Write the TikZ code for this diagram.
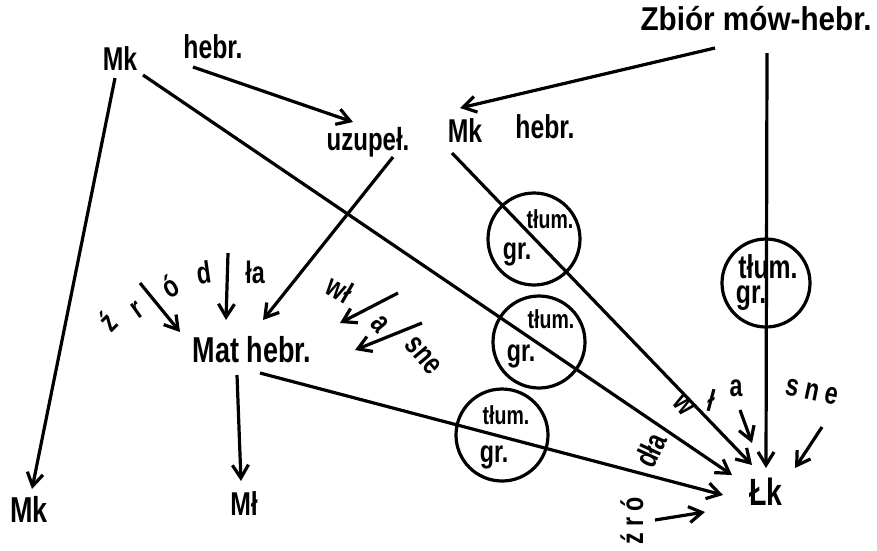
\documentclass[tikz,border=0pt]{standalone}
\usepackage{fontspec}
\setmainfont[FakeStretch=0.75]{Liberation Sans}
\newfontfamily\widefont[FakeStretch=0.9]{Liberation Sans}
\usetikzlibrary{arrows.meta}
\tikzset{
  lab/.style={anchor=base, inner sep=1pt, font=\fontsize{33}{33}\selectfont\bfseries},
  letter/.style={inner sep=0pt, font=\fontsize{31}{31}\selectfont\bfseries},
  ctext/.style={anchor=base, inner sep=0pt, font=\fontsize{26}{26}\selectfont\bfseries},
  gtext/.style={anchor=base, inner sep=0pt, font=\fontsize{31}{31}\selectfont\bfseries},
  circ/.style={circle, draw, line width=3.2pt, minimum size=92pt, inner sep=0pt},
  con/.style={line width=3.2pt, -{Straight Barb[length=13pt,width=16pt]}},
}
\begin{document}
\begin{tikzpicture}[x=1pt,y=-1pt]
\useasboundingbox (0,0) rectangle (877,550);

% main labels
\node[lab] (mk1) at (120,70) {Mk};
\node[lab] (heb1) at (213,58) {hebr.};
\node[lab, font=\fontsize{32}{32}\selectfont\bfseries] (uz) at (368,150) {uzupeł.};
\node[lab] (mkh) at (465,142) {Mk};
\node[lab] (heb2) at (545,138) {hebr.};
\node[lab, font=\fontsize{33}{33}\selectfont\widefont\bfseries] (zb) at (756,30) {Zbiór mów-hebr.};
\node[lab, font=\fontsize{36}{36}\selectfont\bfseries] (mat) at (252,362) {Mat hebr.};
\node[lab, font=\fontsize{36}{36}\selectfont\bfseries] (mk3) at (29,522) {Mk};
\node[lab] (ml) at (244,515) {Mł};
\node[lab, font=\fontsize{38}{38}\selectfont\bfseries] (lk) at (766,505) {Łk};

% connector end points
\coordinate (s1) at (193,67);   \coordinate (t1) at (353,122);
\coordinate (s2) at (715,48);   \coordinate (t2) at (460,108);
\coordinate (s3) at (767,53);   \coordinate (t3) at (766,468);
\coordinate (s4) at (115,78);   \coordinate (t4) at (32,489);
\coordinate (s5) at (143,75);   \coordinate (t5) at (732,475);
\coordinate (s6) at (452,153);  \coordinate (t6) at (752,465);
\coordinate (s7) at (393,157);  \coordinate (t7) at (263,320);
\coordinate (s8) at (260,373);  \coordinate (t8) at (723,495);
\coordinate (s9) at (237,375);  \coordinate (t9) at (241,481);

% main connectors
\draw[con] (s1) -- (t1);
\draw[con] (s2) -- (t2);
\draw[con] (s3) -- (t3);
\draw[con] (s4) -- (t4);
\draw[con] (s5) -- (t5);
\draw[con] (s6) -- (t6);
\draw[con] (s7) -- (t7);
\draw[con] (s8) -- (t8);
\draw[con] (s9) -- (t9);

% circles
\node[circ] (c1) at (534,239) {};
\node[circ] (c2) at (539,342) {};
\node[circ] (c3) at (502,435) {};
\node[circ, minimum size=88pt] (c4) at (766,283) {};

\node[ctext] (c1a) at (550,228) {tłum.};
\node[gtext] (c1b) at (517,259) {gr.};
\node[ctext] (c2a) at (551,328) {tłum.};
\node[gtext] (c2b) at (521,361) {gr.};
\node[ctext] (c3a) at (506,424) {tłum.};
\node[gtext] (c3b) at (494,462) {gr.};
\node[ctext, font=\fontsize{33}{33}\selectfont\bfseries] (c4a) at (768,278) {tłum.};
\node[gtext, font=\fontsize{33}{33}\selectfont\bfseries] (c4b) at (751,303) {gr.};

% "źródła" around Mat hebr.
\node[letter, rotate=45] (z1) at (108,321) {ź};
\node[letter, rotate=35] (r1) at (137,310) {r};
\node[letter, rotate=30] (o1) at (170,286) {ó};
\node[letter, rotate=8] (d1) at (204,273) {d};
\node[letter] (la1) at (255,272) {ła};
\coordinate (a1s) at (140,283); \coordinate (a1e) at (180,332);
\coordinate (a2s) at (228,253); \coordinate (a2e) at (226,320);
\draw[con] (a1s) -- (a1e);
\draw[con] (a2s) -- (a2e);

% "własne" near Mat hebr.
\node[letter, rotate=-30] (w1) at (340,289) {wł};
\node[letter, rotate=-50] (a3) at (380,324) {a};
\node[letter, rotate=-50] (sne1) at (423,356) {sne};
\coordinate (a3s) at (398,293); \coordinate (a3e) at (340,323);
\coordinate (a4s) at (422,323); \coordinate (a4e) at (355,350);
\draw[con] (a3s) -- (a3e);
\draw[con] (a4s) -- (a4e);

% labels around Łk
\node[letter, rotate=65] (dla) at (651,450) {dła};
\node[letter, rotate=-50] (w2) at (684,405) {w};
\node[letter, rotate=-15] (l2) at (712,400) {ł};
\node[letter] (a5) at (736,388) {a};
\node[letter, rotate=-12] (sne2) at (812,392) {s n e};
\node[letter, rotate=90] (zro) at (632,521) {ź r ó};
\coordinate (b1s) at (740,410); \coordinate (b1e) at (752,443);
\coordinate (b2s) at (822,427); \coordinate (b2e) at (795,468);
\coordinate (b3s) at (655,520); \coordinate (b3e) at (705,512);
\draw[con] (b1s) -- (b1e);
\draw[con] (b2s) -- (b2e);
\draw[con] (b3s) -- (b3e);
\end{tikzpicture}
\end{document}
